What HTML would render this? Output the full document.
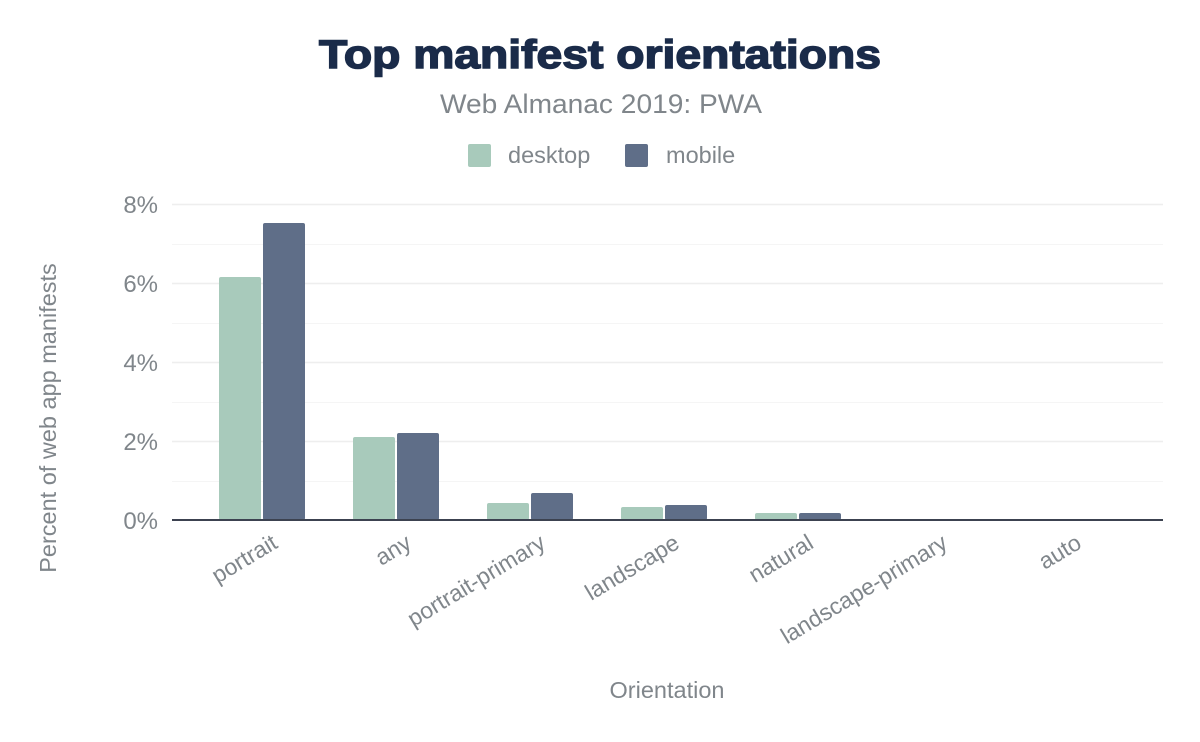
<!DOCTYPE html>
<html><head><meta charset="utf-8"><style>
html,body{margin:0;padding:0;background:#fff;}
svg{display:block;font-family:"Liberation Sans",Arial,sans-serif;}
</style></head><body>
<svg width="1200" height="742" viewBox="0 0 1200 742" xmlns="http://www.w3.org/2000/svg">
<text x="600" y="68" text-anchor="middle" font-size="40" font-weight="900" fill="#1a2b49" stroke="#1a2b49" stroke-width="1.5" textLength="562" lengthAdjust="spacingAndGlyphs">Top manifest orientations</text>
<text x="601" y="113" text-anchor="middle" font-size="27" fill="#80868b" textLength="322" lengthAdjust="spacingAndGlyphs">Web Almanac 2019: PWA</text>
<rect x="468" y="144" width="23" height="23" rx="2" fill="#a8cabb"/>
<text x="508" y="163" font-size="23.5" fill="#80868b">desktop</text>
<rect x="625" y="144" width="23" height="23" rx="2" fill="#5f6e88"/>
<text x="666" y="163" font-size="23.5" fill="#80868b">mobile</text>
<g stroke="#f5f5f5" stroke-width="1">
<line x1="172" x2="1163" y1="244.5" y2="244.5"/>
<line x1="172" x2="1163" y1="323.5" y2="323.5"/>
<line x1="172" x2="1163" y1="402.5" y2="402.5"/>
<line x1="172" x2="1163" y1="481.5" y2="481.5"/>
</g>
<g stroke="#eeeeee" stroke-width="1.5">
<line x1="172" x2="1163" y1="204.5" y2="204.5"/>
<line x1="172" x2="1163" y1="283.5" y2="283.5"/>
<line x1="172" x2="1163" y1="362.5" y2="362.5"/>
<line x1="172" x2="1163" y1="441.5" y2="441.5"/>
</g>
<g font-size="24" fill="#80868b" text-anchor="end">
<text x="158" y="213">8%</text>
<text x="158" y="292">6%</text>
<text x="158" y="371">4%</text>
<text x="158" y="450">2%</text>
<text x="158" y="529">0%</text>
</g>
<g>
<rect x="219" y="277" width="42" height="243" rx="2" fill="#a8cabb"/>
<rect x="263" y="223" width="42" height="297" rx="2" fill="#5f6e88"/>
<rect x="353" y="437" width="42" height="83" rx="2" fill="#a8cabb"/>
<rect x="397" y="433" width="42" height="87" rx="2" fill="#5f6e88"/>
<rect x="487" y="503" width="42" height="17" rx="2" fill="#a8cabb"/>
<rect x="531" y="493" width="42" height="27" rx="2" fill="#5f6e88"/>
<rect x="621" y="507" width="42" height="13" rx="2" fill="#a8cabb"/>
<rect x="665" y="505" width="42" height="15" rx="2" fill="#5f6e88"/>
<rect x="755" y="513" width="42" height="7" rx="2" fill="#a8cabb"/>
<rect x="799" y="513" width="42" height="7" rx="2" fill="#5f6e88"/>
<rect x="889" y="519" width="42" height="1" fill="#a8cabb"/>
<rect x="933" y="519" width="42" height="1" fill="#5f6e88"/>
<rect x="1023" y="519" width="42" height="1" fill="#a8cabb"/>
<rect x="1067" y="519" width="42" height="1" fill="#5f6e88"/>
</g>
<line x1="172" x2="1163" y1="520" y2="520" stroke="#3c4250" stroke-width="2"/>
<g font-size="23" fill="#80868b" text-anchor="end">
<text transform="translate(279,547) rotate(-31)">portrait</text>
<text transform="translate(413,547) rotate(-31)">any</text>
<text transform="translate(547,547) rotate(-31)">portrait-primary</text>
<text transform="translate(681,547) rotate(-31)">landscape</text>
<text transform="translate(815,547) rotate(-31)">natural</text>
<text transform="translate(949,547) rotate(-31)">landscape-primary</text>
<text transform="translate(1083,547) rotate(-31)">auto</text>
</g>
<text x="667" y="698" text-anchor="middle" font-size="23.5" fill="#80868b">Orientation</text>
<text transform="translate(56,418) rotate(-90)" text-anchor="middle" font-size="23.5" fill="#80868b">Percent of web app manifests</text>
</svg>
</body></html>
